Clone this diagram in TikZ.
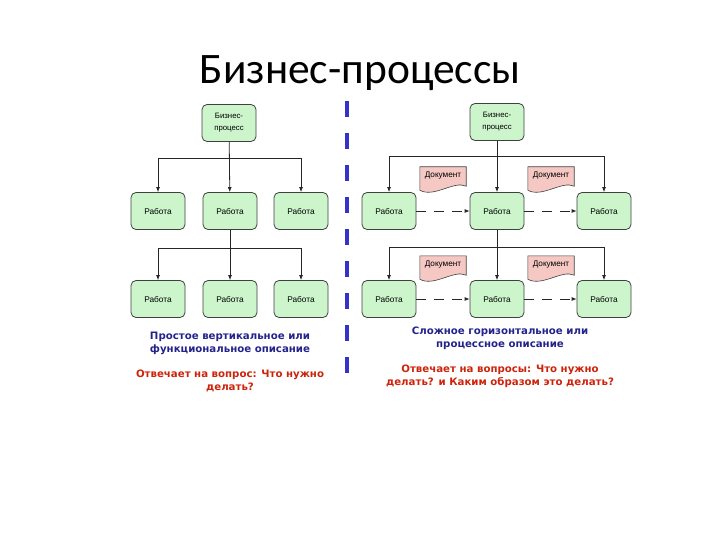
\documentclass[tikz,border=0pt]{standalone}
\usepackage{fontspec}
\setmainfont{Liberation Sans}
\newfontfamily\titlefont{Carlito}
\newfontfamily\notefont{DejaVu Sans}
\usetikzlibrary{arrows.meta}
\definecolor{boxgreen}{RGB}{204,245,204}
\definecolor{docpink}{RGB}{245,200,195}
\definecolor{noteblue}{RGB}{35,35,140}
\definecolor{notered}{RGB}{205,35,10}
\definecolor{divblue}{RGB}{51,51,204}
% document symbol: a node with a wavy bottom edge
\newcommand{\docnode}[2]{%
  \node[doc] (#1) at (#2) {Документ};
  \draw[draw=black!75,fill=docpink,line width=0.6pt]
    (#1.north west) -- (#1.north east) -- ([yshift=-1pt]#1.south east)
    .. controls ([xshift=-12pt,yshift=5pt]#1.south east) and ([xshift=14pt,yshift=-13pt]#1.south west) ..
    ([yshift=-5pt]#1.south west) -- cycle;
  \node[doc] at (#1) {Документ};}
\begin{document}
\begin{tikzpicture}[x=1pt,y=-1pt,
    work/.style={draw=black!75,fill=boxgreen,rounded corners=5pt,line width=0.8pt,
      minimum width=54pt,minimum height=37pt,inner sep=1pt,font=\fontsize{8.3}{9}\selectfont},
    head/.style={work,align=center,font=\fontsize{7.8}{12}\selectfont},
    doc/.style={minimum width=46pt,minimum height=18pt,inner sep=0pt,font=\fontsize{8.2}{8}\selectfont},
    link/.style={draw=black!85,line width=0.8pt,-{Latex[length=5pt,width=4pt]}},
    flow/.style={link,dash pattern=on 10pt off 8pt},
    note/.style={align=center,font=\notefont\bfseries\fontsize{10.2}{12.8}\selectfont}]
  \useasboundingbox (0,0) rectangle (720,540);

  \node[anchor=base,font=\titlefont\fontsize{43.5}{52}\selectfont] (title) at (360,84) {Бизнес-процессы};

  % left: vertical description
  \node[head] (lp) at (229,123) {Бизнес-\\процесс};
  \node[work] (l1a) at (158,211) {Работа};
  \node[work] (l1b) at (230,211) {Работа};
  \node[work] (l1c) at (301,211) {Работа};
  \node[work] (l2a) at (158,299) {Работа};
  \node[work] (l2b) at (230,299) {Работа};
  \node[work] (l2c) at (301,299) {Работа};
  \draw[link] (lp) -- (l1b);
  \draw[link] ([yshift=-17pt]lp.south) -| (l1a);
  \draw[link] ([yshift=-17pt]lp.south) -| (l1c);
  \draw[link] (l1b) -- (l2b);
  \draw[link] ([yshift=-18pt]l1b.south) -| (l2a);
  \draw[link] ([yshift=-18pt]l1b.south) -| (l2c);

  \node[note,text=noteblue] (lnote) at (230,343.5) {Простое вертикальное или\\функциональное описание};
  \node[note,text=notered] (lask) at (230,381) {Отвечает на вопрос: Что нужно\\делать?};

  % divider
  \draw[divblue,line width=4pt,dash pattern=on 16pt off 16pt] (347,101) -- (347,386);

  % right: process description
  \node[head] (rp) at (497,122) {Бизнес-\\процесс};
  \node[work] (r1a) at (389,211) {Работа};
  \node[work] (r1b) at (497,211) {Работа};
  \node[work] (r1c) at (604,211) {Работа};
  \node[work] (r2a) at (389,299) {Работа};
  \node[work] (r2b) at (497,299) {Работа};
  \node[work] (r2c) at (604,299) {Работа};
  \draw[link] (rp) -- (r1b);
  \draw[link] ([yshift=-16pt]rp.south) -| (r1a);
  \draw[link] ([yshift=-16pt]rp.south) -| (r1c);
  \draw[link] (r1b) -- (r2b);
  \draw[link] ([yshift=-17pt]r1b.south) -| (r2a);
  \draw[link] ([yshift=-17pt]r1b.south) -| (r2c);
  \docnode{d1a}{443,176}
  \docnode{d1b}{551,176}
  \docnode{d2a}{443,265}
  \docnode{d2b}{551,265}
  \draw[flow] (r1a) -- (r1b);
  \draw[flow] (r1b) -- (r1c);
  \draw[flow] (r2a) -- (r2b);
  \draw[flow] (r2b) -- (r2c);

  \node[note,text=noteblue] (rnote) at (500,338.5) {Сложное горизонтальное или\\процессное описание};
  \node[note,text=notered] (rask) at (500,376) {Отвечает на вопросы: Что нужно\\делать? и Каким образом это делать?};
\end{tikzpicture}
\end{document}
